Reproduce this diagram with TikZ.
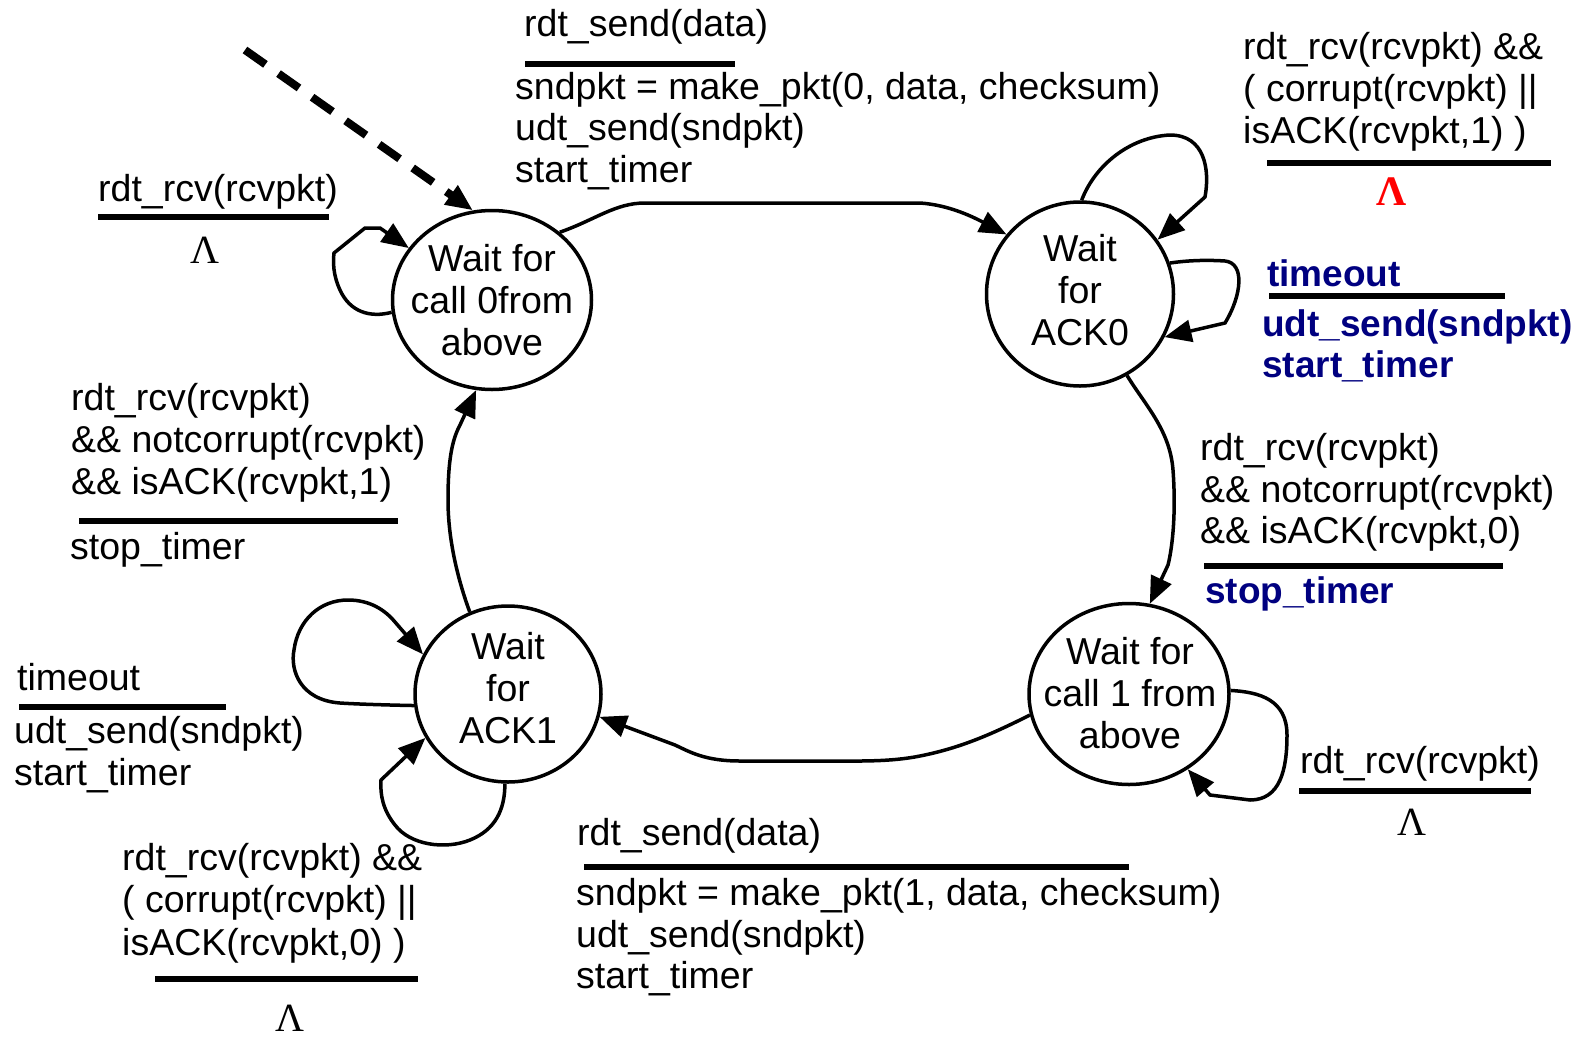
\documentclass[tikz,border=0pt]{standalone}
\usepackage{fontspec}
\setmainfont{Liberation Sans}
\newfontfamily\lamfont{Liberation Serif}
\usetikzlibrary{arrows.meta,shapes.geometric}
\definecolor{navyblue}{RGB}{0,0,128}
\definecolor{lamred}{RGB}{255,0,0}
\newcommand\labfont{\fontsize{37.5}{42}\selectfont}
\newcommand\blabfont{\fontsize{37}{42}\selectfont\bfseries}
\begin{document}
\begin{tikzpicture}[x=1pt,y=1pt,
  state/.style={ellipse, draw, line width=3.5pt, inner sep=0pt},
  stxt/.style={align=center, inner sep=0pt, font=\labfont},
  edge/.style={line width=3.5pt, -{Triangle[length=27pt,width=22pt]}},
  lbl/.style={anchor=base west, inner sep=0pt, font=\labfont},
  blbl/.style={anchor=base west, inner sep=0pt, font=\blabfont, text=navyblue},
  bar/.style={line width=6pt},
  lam/.style={anchor=base, inner sep=0pt, font=\lamfont\fontsize{40}{40}\selectfont},
]
\useasboundingbox (0,0) rectangle (1583,-1037);

% states
\node[state, minimum width=199pt, minimum height=179pt] (s1) at (492,-300) {};
\node[state, minimum width=187pt, minimum height=184pt] (s2) at (1080,-294) {};
\node[state, minimum width=200pt, minimum height=181pt] (s3) at (1129,-694) {};
\node[state, minimum width=186pt, minimum height=176pt] (s4) at (508,-694) {};
\node[stxt] (s1t) at (492,-300) {Wait for\\call 0from\\above};
\node[stxt] (s2t) at (1080,-290) {Wait\\for\\ACK0};
\node[stxt] (s3t) at (1130,-693) {Wait for\\call 1 from\\above};
\node[stxt] (s4t) at (508,-688) {Wait\\for\\ACK1};

% initial dashed arrow
\coordinate (init) at (245,-50);
\draw[edge, line width=8pt, dash pattern=on 25pt off 16pt] (init) -- (s1.102);

% s1 -> s2
\draw[edge] (s1.45) .. controls (595,-220) and (615,-203) .. (645,-203) -- (920,-203) .. controls (950,-205) and (975,-218) .. (s2.141);
% s2 top loop
\draw[edge] (s2.89) .. controls (1095,-165) and (1130,-137) .. (1170,-135) .. controls (1205,-135) and (1210,-170) .. (1205,-197) -- (s2.35);
% s2 right loop
\draw[edge] (s2.19) .. controls (1190,-260) and (1210,-260) .. (1225,-261) .. controls (1245,-263) and (1242,-295) .. (1225,-323) -- (s2.-27);
% s2 -> s3
\draw[edge] (s2.-60) .. controls (1145,-405) and (1170,-430) .. (1173,-470) .. controls (1176,-510) and (1173,-545) .. (1168,-565) -- (s3.77);
% s3 loop
\draw[edge] (s3.2) .. controls (1260,-692) and (1287,-700) .. (1287,-735) .. controls (1287,-770) and (1280,-800) .. (1250,-800) -- (1210,-795) -- (s3.-52);
% s3 -> s4
\draw[edge] (s3.-168) .. controls (990,-735) and (960,-748) .. (920,-756) .. controls (890,-762) and (860,-761) .. (820,-761) -- (740,-761) .. controls (705,-761) and (690,-752) .. (675,-745) -- (s4.-14);
% s4 upper loop
\draw[edge] (s4.187) .. controls (385,-705) and (355,-704) .. (340,-703) .. controls (300,-700) and (290,-670) .. (294,-650) .. controls (298,-620) and (320,-600) .. (348,-600) .. controls (370,-600) and (385,-610) .. (395,-622) -- (s4.155);
% s4 lower loop
\draw[edge] (s4.-92) .. controls (505,-810) and (495,-830) .. (470,-840) .. controls (445,-850) and (410,-845) .. (395,-825) .. controls (383,-810) and (380,-795) .. (381,-780) -- (s4.-152);
% s4 -> s1
\draw[edge] (s4.115) .. controls (458,-580) and (448,-540) .. (448,-500) .. controls (448,-460) and (452,-440) .. (460,-425) -- (s1.-100);
% s1 loop
\draw[edge] (s1.187) .. controls (370,-318) and (350,-312) .. (340,-290) .. controls (333,-275) and (333,-262) .. (334,-253) -- (365,-228) -- (380,-228) -- (s1.148);

% top middle label
\node[lbl] (ta1) at (524,-36) {rdt\_send(data)};
\draw[bar] (525,-64) -- (735,-64);
\node[lbl] (ta2) at (515,-99) {sndpkt = make\_pkt(0, data, checksum)};
\node[lbl] (ta3) at (515,-140) {udt\_send(sndpkt)};
\node[lbl] (ta4) at (515,-182) {start\_timer};

% top right label
\node[lbl] (tb1) at (1243,-59) {rdt\_rcv(rcvpkt) \&\&};
\node[lbl] (tb2) at (1243,-101) {( corrupt(rcvpkt) ||};
\node[lbl] (tb3) at (1243,-143) {isACK(rcvpkt,1) )};
\draw[bar] (1267,-163) -- (1551,-163);
\node[lam, font=\lamfont\bfseries\fontsize{42}{42}\selectfont, text=lamred] (tbl) at (1392,-205) {Λ};

% blue timeout label
\node[blbl] (tc1) at (1267,-286) {timeout};
\draw[bar] (1269,-296) -- (1505,-296);
\node[blbl] (tc2) at (1262,-336) {udt\_send(sndpkt)};
\node[blbl] (tc3) at (1262,-377) {start\_timer};

% right middle label
\node[lbl] (td1) at (1200,-460) {rdt\_rcv(rcvpkt)};
\node[lbl] (td2) at (1200,-502) {\&\& notcorrupt(rcvpkt)};
\node[lbl] (td3) at (1200,-543) {\&\& isACK(rcvpkt,0)};
\draw[bar] (1204,-566) -- (1503,-566);
\node[blbl] (td4) at (1205,-603) {stop\_timer};

% bottom right label
\node[lbl] (te1) at (1300,-773) {rdt\_rcv(rcvpkt)};
\draw[bar] (1299,-791) -- (1531,-791);
\node[lam] (tel) at (1412,-835) {Λ};

% bottom middle label
\node[lbl] (tf1) at (577,-845) {rdt\_send(data)};
\draw[bar] (584,-867) -- (1129,-867);
\node[lbl] (tf2) at (576,-905) {sndpkt = make\_pkt(1, data, checksum)};
\node[lbl] (tf3) at (576,-947) {udt\_send(sndpkt)};
\node[lbl] (tf4) at (576,-988) {start\_timer};

% bottom left label
\node[lbl] (tg1) at (122,-870) {rdt\_rcv(rcvpkt) \&\&};
\node[lbl] (tg2) at (122,-912) {( corrupt(rcvpkt) ||};
\node[lbl] (tg3) at (122,-955) {isACK(rcvpkt,0) )};
\draw[bar] (155,-979) -- (418,-979);
\node[lam] (tgl) at (290,-1031) {Λ};

% left timeout label
\node[lbl] (th1) at (17,-690) {timeout};
\draw[bar] (19,-707) -- (226,-707);
\node[lbl] (th2) at (14,-743) {udt\_send(sndpkt)};
\node[lbl] (th3) at (14,-785) {start\_timer};

% left middle label
\node[lbl] (ti1) at (71,-410) {rdt\_rcv(rcvpkt)};
\node[lbl] (ti2) at (71,-452) {\&\& notcorrupt(rcvpkt)};
\node[lbl] (ti3) at (71,-494) {\&\& isACK(rcvpkt,1)};
\draw[bar] (79,-521) -- (398,-521);
\node[lbl] (ti4) at (70,-559) {stop\_timer};

% top left label
\node[lbl] (tj1) at (98,-201) {rdt\_rcv(rcvpkt)};
\draw[bar] (98,-217) -- (329,-217);
\node[lam] (tjl) at (205,-263) {Λ};
\end{tikzpicture}
\end{document}
